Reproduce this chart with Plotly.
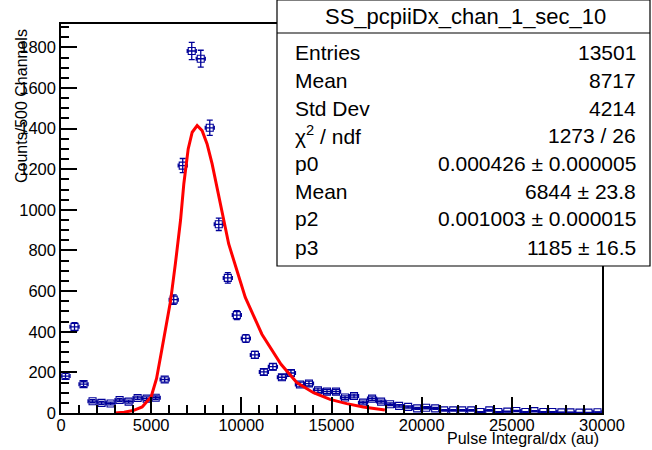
import numpy as np
import plotly.graph_objects as go

# ---- histogram data (bin centres, counts) ----
bin_centers = [250, 750, 1250, 1750, 2250, 2750, 3250, 3750, 4250, 4750,
               5250, 5750, 6250, 6750, 7250, 7750, 8250, 8750, 9250, 9750,
               10250, 10750, 11250, 11750, 12250, 12750, 13250, 13750, 14250, 14750,
               15250, 15750, 16250, 16750, 17250, 17750, 18250, 18750, 19250, 19750,
               20250, 20750, 21250, 21750, 22250, 22750, 23250, 23750, 24250, 24750,
               25250, 25750, 26250, 26750, 27250, 27750, 28250, 28750, 29250, 29750]
counts = [182, 424, 142, 58, 50, 47, 64, 56, 74, 71,
          75, 165, 558, 1218, 1782, 1744, 1404, 929, 665, 482,
          367, 286, 202, 228, 176, 197, 140, 145, 112, 105,
          105, 76, 84, 51, 71, 56, 43, 35, 30, 23,
          26, 23, 13, 13, 13, 13, 5, 13, 5, 7,
          10, 5, 9, 5, 5, 3, 3, 2, 2, 4]
bin_half_width = 250

# ---- fit curve ----
fit_x = [3000, 3500, 4000, 4500, 5000, 5300, 5580, 5800, 6077, 6350,
         6630, 6813, 7053, 7275, 7550, 7826, 8100, 8380, 8746, 9116,
         9300, 10220, 11140, 12200, 13075, 14000, 14920, 15840, 16760, 17960]
fit_y = [0, 4, 12, 30, 80, 170, 306, 410, 552, 740,
         950, 1130, 1300, 1382, 1415, 1390, 1325, 1226, 1070, 897,
         832, 569, 388, 240, 150, 100, 67, 46, 30, 15]

# ---- axis ticks ----
x_tickvals = [0, 5000, 10000, 15000, 20000, 25000, 30000]
y_tickvals = [0, 200, 400, 600, 800, 1000, 1200, 1400, 1600, 1800]

# ---- stats box ----
stats_title = "SS_pcpiiDx_chan_1_sec_10"
stats_labels = ["Entries", "Mean", "Std Dev", "χ<sup>2</sup> / ndf", "p0", "Mean", "p2", "p3"]
stats_values = ["13501", "8717", "4214", "1273 / 26", "0.000426 ± 0.000005",
                "6844 ± 23.8", "0.001003 ± 0.000015", "1185 ± 16.5"]

W, H = 652, 450
L, R, T, B = 61, 602, 24, 413
FONT = "Liberation Sans, Arial, Helvetica, sans-serif"
BLUE = "#000099"


def px(x):
    return (x - L) / (R - L)


def py(y):
    return (B - y) / (B - T)


fig = go.Figure()
fig.add_trace(go.Scatter(
    x=bin_centers, y=counts, mode="markers",
    marker=dict(symbol="square-open", size=7, color=BLUE, line=dict(width=1.1, color=BLUE)),
    error_x=dict(type="constant", value=bin_half_width, color=BLUE, thickness=1.3, width=2),
    error_y=dict(type="data", array=list(np.sqrt(counts)), color=BLUE, thickness=1.3, width=3),
    showlegend=False, hoverinfo="x+y"))
fig.add_trace(go.Scatter(
    x=fit_x, y=fit_y, mode="lines", line=dict(color="#ff0000", width=3),
    showlegend=False))

axis_common = dict(showgrid=False, zeroline=False, showline=True, mirror=True,
                   linecolor="black", linewidth=1.5, ticks="inside", ticklen=16,
                   tickwidth=1.5, tickcolor="black",
                   tickfont=dict(family=FONT, size=16.5, color="black"))
fig.update_xaxes(range=[0, 30000], tickvals=x_tickvals,
                 ticktext=[str(v) for v in x_tickvals], ticklabelstandoff=-4,
                 minor=dict(dtick=1000, ticklen=8, ticks="inside", tickcolor="black", tickwidth=1.5),
                 **axis_common)
fig.update_yaxes(range=[0, 1915], tickvals=y_tickvals,
                 ticktext=[str(v) for v in y_tickvals],
                 minor=dict(dtick=50, ticklen=8, ticks="inside", tickcolor="black", tickwidth=1.5),
                 **axis_common)

shapes = [
    dict(type="rect", xref="paper", yref="paper", x0=px(277), x1=px(650), y0=py(266), y1=py(0),
         line=dict(color="black", width=1.2), fillcolor="white", layer="above"),
    dict(type="line", xref="paper", yref="paper", x0=px(277), x1=px(650), y0=py(33), y1=py(33),
         line=dict(color="black", width=1.2), layer="above"),
]

annotations = [
    dict(text="Counts/500 Channels", xref="paper", yref="paper", x=px(22), y=py(27),
         xanchor="center", yanchor="top", textangle=-90, showarrow=False,
         font=dict(family=FONT, size=16, color="black")),
    dict(text="Pulse Integral/dx (au)", xref="paper", yref="paper", x=px(601), y=py(438),
         xanchor="right", yanchor="middle", showarrow=False,
         font=dict(family=FONT, size=16, color="black")),
    dict(text=stats_title, xref="paper", yref="paper", x=px(465), y=py(17),
         xanchor="center", yanchor="middle", showarrow=False,
         font=dict(family=FONT, size=22, color="black")),
]
row_y = [52, 80, 108, 135, 163, 191, 219, 247]
for lab, val, ry in zip(stats_labels, stats_values, row_y):
    annotations.append(dict(text=lab, xref="paper", yref="paper", x=px(293), y=py(ry),
                            xanchor="left", yanchor="middle", showarrow=False,
                            font=dict(family=FONT, size=21, color="black")))
    annotations.append(dict(text=val, xref="paper", yref="paper", x=px(638), y=py(ry),
                            xanchor="right", yanchor="middle", showarrow=False,
                            font=dict(family=FONT, size=21, color="black")))

fig.update_layout(width=W, height=H, margin=dict(l=L, r=W - R, t=T, b=H - B),
                  plot_bgcolor="white", paper_bgcolor="white",
                  shapes=shapes, annotations=annotations)

fig.write_html("out.html", config={"displayModeBar": False},
               post_script="document.body.style.margin='0px';"
                           "document.documentElement.style.overflow='hidden';")
